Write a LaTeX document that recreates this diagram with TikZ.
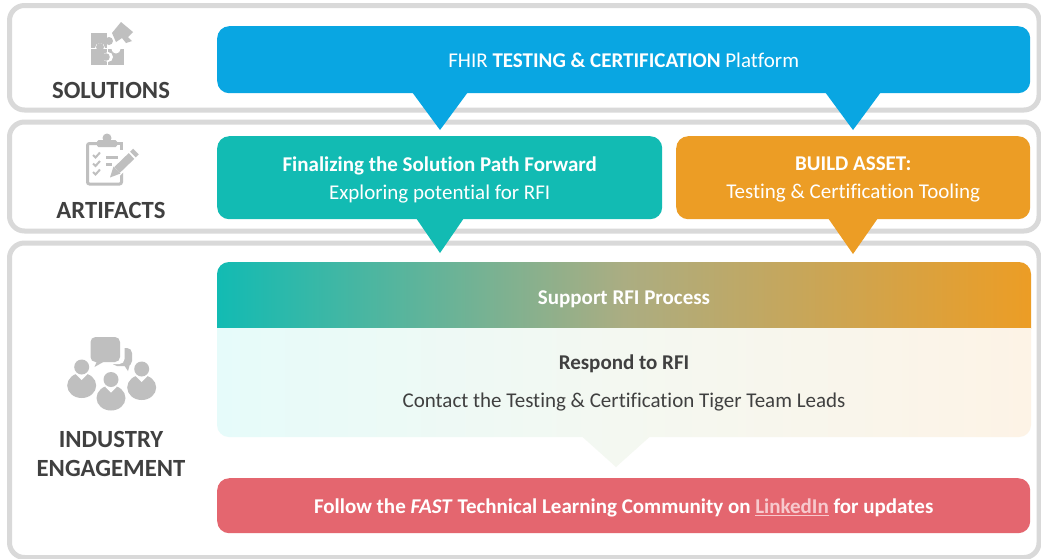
\documentclass[tikz,border=0pt]{standalone}
\usepackage{fontspec}
\setmainfont[Ligatures=NoCommon]{Carlito}
\newcommand{\dropby}[2]{\raisebox{-#1}[\height][\depth]{#2}}
\definecolor{framegray}{HTML}{D9D9D9}
\definecolor{icongray}{HTML}{BFBFBF}
\definecolor{labelgray}{HTML}{404040}
\definecolor{fastblue}{HTML}{09A6E2}
\definecolor{fastteal}{HTML}{12BBB3}
\definecolor{fastorange}{HTML}{EC9D25}
\definecolor{fastred}{HTML}{E4666F}
\definecolor{paleteal}{HTML}{E6FBFA}
\definecolor{paleorange}{HTML}{FDF3E6}
\definecolor{palemid}{HTML}{F4F8F1}
\definecolor{linkpink}{HTML}{F7C9CD}
\definecolor{midblend}{HTML}{ABAD82}
\tikzset{
  x=1pt,y=-1pt,
  frame/.style={draw=framegray,line width=5pt,rounded corners=15pt},
  box/.style={anchor=north west,inner sep=0pt,rounded corners=12pt,text=white,align=center,font=\fontsize{21}{28}\selectfont},
  side/.style={text=labelgray,font=\bfseries\fontsize{24.7}{29}\selectfont,align=center,inner sep=0pt},
  boxtext/.style={font=\fontsize{21}{26}\selectfont,inner sep=0pt},
  ic/.style={fill=icongray,draw=none},
  gapw/.style={fill=white,draw=none},
  vivid/.style={left color=fastteal,right color=fastorange,middle color=midblend},
  pale/.style={left color=paleteal,right color=paleorange,middle color=palemid},
}
\begin{document}
\begin{tikzpicture}
\useasboundingbox (0,0) rectangle (1041,558);
\fill[white] (0,0) rectangle (1041,558);
% frames
\draw[frame] (9.5,5.5) rectangle (1039,110);
\draw[frame] (9.5,122) rectangle (1039,231);
\draw[frame] (9.5,243) rectangle (1039,557.5);
% boxes
\fill[fastblue] (412,92) -- (440,130) -- (468,92) -- cycle;
\fill[fastblue] (825,92) -- (853,130) -- (881,92) -- cycle;
\node[box,fill=fastblue,minimum width=813pt,minimum height=67pt] (plat) at (217,26) {\dropby{1pt}{FHIR \textbf{TESTING \& CERTIFICATION} Platform}};
\fill[fastteal] (416,218) -- (440,253) -- (464,218) -- cycle;
\node[box,fill=fastteal,minimum width=445pt,minimum height=83pt] (path) at (217,136) {\dropby{2pt}{\textbf{Finalizing the Solution Path Forward}}\\\dropby{2pt}{Exploring potential for RFI}};
\fill[fastorange] (828,218) -- (853,254) -- (878,218) -- cycle;
\node[box,fill=fastorange,minimum width=354pt,minimum height=83pt] (asset) at (676,136) {\dropby{2pt}{\textbf{BUILD ASSET:}}\\\dropby{2pt}{Testing \& Certification Tooling}};
% gradient boxes
\begin{scope}
\clip[rounded corners=12pt] (217,262) -- (1031,262) -- (1031,350) -- (217,350) -- cycle;
\shade[vivid] (217,262) rectangle (1031,328);
\end{scope}
\node[text=white,boxtext,font=\bfseries\fontsize{21}{26}\selectfont] (support) at (624,299.5) {Support RFI Process};
\begin{scope}
\clip[rounded corners=12pt] (217,300) -- (1031,300) -- (1031,437) -- (217,437) -- cycle;
\shade[pale] (217,328) rectangle (1031,437);
\end{scope}
\begin{scope}
\clip (582,436.5) -- (616,467) -- (650,436.5) -- cycle;
\shade[pale] (217,436) rectangle (1031,468);
\end{scope}
\node[text=labelgray,boxtext,font=\bfseries\fontsize{21}{26}\selectfont] (respond) at (624,363.5) {Respond to RFI};
\node[text=labelgray,boxtext] (contact) at (624,402.5) {Contact the Testing \& Certification Tiger Team Leads};
\node[box,fill=fastred,minimum width=813pt,minimum height=55pt,font=\bfseries\fontsize{21}{26}\selectfont] (follow) at (217,478) {\dropby{2.5pt}{Follow the \textit{FAST} Technical Learning Community on \textcolor{linkpink}{\underline{LinkedIn}} for updates}};
% labels
\node[side] (sol) at (111,90) {SOLUTIONS};
\node[side] (art) at (111,210) {ARTIFACTS};
\node[side] (ind) at (111,453.5) {INDUSTRY\\ENGAGEMENT};
% puzzle icon
\fill[ic] (91,33) rectangle (107,48);
\fill[ic] (109,41) circle (4);
\fill[gapw] (100,48) circle (5);
\fill[ic] (91,49) rectangle (106.5,65);
\fill[ic] (100,47) circle (4);
\fill[ic] (108,49) rectangle (124,65);
\fill[gapw] (116,49) circle (4.5);
\fill[gapw] (108,57) circle (5);
\fill[ic] (106,57) circle (3.8);
\fill[ic] (121,22) -- (133,32) -- (128,37) -- (132,41) -- (126,43) -- (122,38) -- (116,42) -- (112,33) -- cycle;
% clipboard icon
\draw[icongray,line width=3pt,rounded corners=2pt] (97,143.5) -- (87.5,143.5) -- (87.5,184) -- (121.5,184) -- (121.5,172);
\draw[icongray,line width=3pt] (117,143.5) -- (121.5,143.5) -- (121.5,150);
\fill[ic,rounded corners=1.5pt] (97,140) rectangle (117,147);
\fill[ic] (107,138) circle (4.5);
\draw[icongray,line width=2pt] (93,155) -- (95.5,157.5) -- (100,152.5);
\draw[icongray,line width=2pt] (93,163.5) -- (95.5,166) -- (100,161);
\draw[icongray,line width=2pt] (93,172) -- (95.5,174.5) -- (100,169.5);
\fill[ic] (106,155.5) rectangle (118,158.5);
\fill[ic] (106,163) rectangle (112,166);
\draw[white,line width=12pt] (113,174) -- (136,152);
\draw[icongray,line width=8pt] (117,170) -- (131.5,156);
\draw[icongray,line width=8pt] (133,154.5) -- (136,151.5);
\fill[ic] (110,177.5) -- (113.5,166.5) -- (120.5,173.5) -- cycle;
% people icon
\fill[ic,rounded corners=5pt] (112,348) rectangle (132,366);
\fill[ic] (124,365) -- (128,371) -- (130,364) -- cycle;
\fill[gapw,rounded corners=5pt] (88,335) rectangle (124.5,364);
\fill[ic,rounded corners=5pt] (90.5,337) rectangle (120,362);
\fill[ic] (97,361) -- (94.5,367) -- (105,361) -- cycle;
\foreach \px/\py in {81.7/367, 111/379.5, 141.7/369}{
  \fill[ic] (\px,\py+18.5) ellipse (14.5 and 12.5);
  \fill[gapw] (\px,\py) circle (9);
  \fill[gapw] (\px-6,\py+7) -- (\px,\py+13) -- (\px+6,\py+7) -- cycle;
  \fill[ic] (\px,\py) circle (7.5);
}
\end{tikzpicture}
\end{document}
